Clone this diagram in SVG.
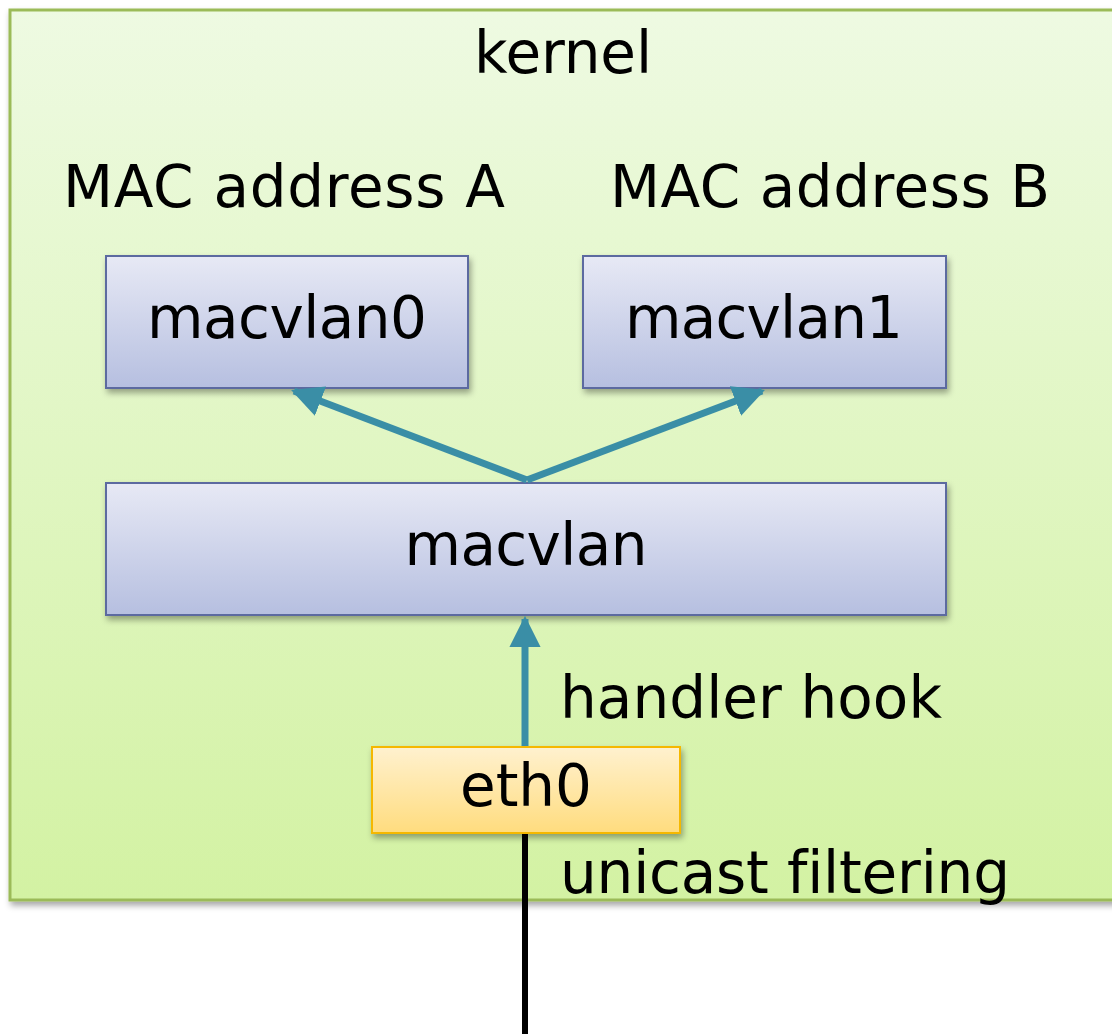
<svg xmlns="http://www.w3.org/2000/svg" width="1112" height="1034" viewBox="0 0 1112 1034">
<defs>
<linearGradient id="gK" x1="0" y1="0" x2="0" y2="1"><stop offset="0" stop-color="#eefae2"/><stop offset="1" stop-color="#d3f2a3"/></linearGradient>
<linearGradient id="gB" x1="0" y1="0" x2="0" y2="1"><stop offset="0" stop-color="#e7e9f5"/><stop offset="1" stop-color="#b6bfe0"/></linearGradient>
<linearGradient id="gY" x1="0" y1="0" x2="0" y2="1"><stop offset="0" stop-color="#fff1cf"/><stop offset="1" stop-color="#ffdc7e"/></linearGradient>
<filter id="sh" x="-10%" y="-10%" width="120%" height="130%"><feDropShadow dx="2" dy="4" stdDeviation="3" flood-color="#000" flood-opacity="0.35"/></filter>
<marker id="ah" viewBox="0 0 10 10" refX="9" refY="5" markerWidth="4.5" markerHeight="4.8" orient="auto" markerUnits="strokeWidth"><path d="M0,0 L10,5 L0,10 z" fill="#3a8ea6"/></marker>
</defs>
<style>
text{font-family:"DejaVu Sans","Verdana",sans-serif;fill:#000;font-size:58px;font-variant-ligatures:none}
.blue{fill:url(#gB);stroke:#5b6aa0;stroke-width:2}
.con{stroke:#3a8ea6;stroke-width:7;fill:none;marker-end:url(#ah)}
</style>
<g id="kernel">
<rect x="10" y="10" width="1120" height="890" fill="url(#gK)" stroke="#9bbb59" stroke-width="3" filter="url(#sh)"/>
<text x="563" y="73" text-anchor="middle" textLength="178">kernel</text>
</g>
<g id="labelA"><text x="63" y="207" textLength="442">MAC address A</text></g>
<g id="labelB"><text x="610" y="207" textLength="440">MAC address B</text></g>
<g id="macvlan0">
<rect class="blue" x="106" y="256" width="362" height="132" filter="url(#sh)"/>
<text x="287" y="338" text-anchor="middle" textLength="280">macvlan0</text>
</g>
<g id="macvlan1">
<rect class="blue" x="583" y="256" width="363" height="132" filter="url(#sh)"/>
<text x="764" y="338" text-anchor="middle" textLength="278">macvlan1</text>
</g>
<g id="macvlan">
<rect class="blue" x="106" y="483" width="840" height="132" filter="url(#sh)"/>
<text x="526" y="565" text-anchor="middle" textLength="243">macvlan</text>
</g>
<g id="eth0">
<rect x="372" y="747" width="308" height="86" fill="url(#gY)" stroke="#f5b800" stroke-width="2" filter="url(#sh)"/>
<text x="526" y="806" text-anchor="middle" textLength="132">eth0</text>
</g>
<g id="connectors">
<line class="con" x1="527" y1="480" x2="294" y2="391"/>
<line class="con" x1="527" y1="480" x2="762" y2="391"/>
<line class="con" x1="525" y1="746" x2="525" y2="619"/>
<line x1="525" y1="834" x2="525" y2="1034" stroke="#000" stroke-width="6"/>
</g>
<g id="edge-labels">
<text x="560" y="718" textLength="382">handler hook</text>
<text x="560" y="893" textLength="450">unicast filtering</text>
</g>
</svg>
